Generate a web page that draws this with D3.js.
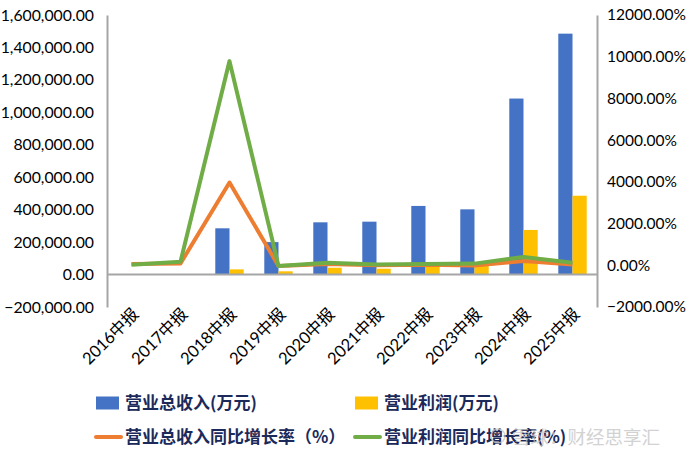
<!DOCTYPE html>
<html><head><meta charset="utf-8">
<script src="https://cdn.jsdelivr.net/npm/d3@7/dist/d3.min.js"></script>
<style>html,body{margin:0;padding:0;background:#fff}</style>
</head><body>
<svg id="c" width="687" height="453"></svg>
<script>
const categories = ["2016中报","2017中报","2018中报","2019中报","2020中报","2021中报","2022中报","2023中报","2024中报","2025中报"];
const revenue = [0, 0, 285000, 200000, 322000, 326000, 423000, 402000, 1085000, 1485000];
const profit = [0, 0, 32000, 20000, 42000, 36000, 53000, 55000, 275000, 486000];
const revenueGrowth = [60, 90, 3970, -30, 61, 1, 30, -5, 200, 40];
const profitGrowth = [20, 170, 9790, -30, 120, 40, 60, 80, 400, 120];
const leftTicks = [-200000,0,200000,400000,600000,800000,1000000,1200000,1400000,1600000];
const rightTicks = [-2000,0,2000,4000,6000,8000,10000,12000];
const legendNames = ["营业总收入(万元)","营业利润(万元)","营业总收入同比增长率（%）","营业利润同比增长率(%)"];

const svg = d3.select("#c");
const L = 107, R = 597, T = 15, B = 307;
const x = d3.scaleBand().domain(categories).range([L, R]).padding(0);
const yL = d3.scaleLinear().domain([-200000, 1600000]).range([B, T]);
const yR = d3.scaleLinear().domain([-2000, 12000]).range([B, T]);
const bw = x.bandwidth() * 0.29;
const cx = d => x(d) + x.bandwidth() / 2;
const font = "Lato, 'Noto Sans', sans-serif";

// bars
svg.append("g").selectAll("rect").data(categories).join("rect")
  .attr("x", d => cx(d) - bw).attr("width", bw)
  .attr("y", (d,i) => yL(Math.max(0, revenue[i])))
  .attr("height", (d,i) => Math.abs(yL(revenue[i]) - yL(0)))
  .attr("fill", "#4472C4");
svg.append("g").selectAll("rect").data(categories).join("rect")
  .attr("x", d => cx(d)).attr("width", bw)
  .attr("y", (d,i) => yL(Math.max(0, profit[i])))
  .attr("height", (d,i) => Math.abs(yL(profit[i]) - yL(0)))
  .attr("fill", "#FFC000");

// zero line (category axis)
svg.append("line").attr("x1", L).attr("x2", R).attr("y1", yL(0)).attr("y2", yL(0))
  .attr("stroke", "#A6A6A6").attr("stroke-width", 2);

// lines
const line = d3.line().x((d,i) => cx(categories[i])).y(d => yR(d));
svg.append("path").datum(revenueGrowth).attr("d", line).attr("fill","none")
  .attr("stroke","#ED7D31").attr("stroke-width",4).attr("stroke-linejoin","round");
svg.append("path").datum(profitGrowth).attr("d", line).attr("fill","none")
  .attr("stroke","#70AD47").attr("stroke-width",4).attr("stroke-linejoin","round");

// axes
const fmtL = d3.format(",.2f");
const gl = svg.append("g").attr("transform", `translate(${L},0)`)
  .call(d3.axisLeft(yL).tickValues(leftTicks).tickFormat(fmtL).tickSize(0).tickPadding(13));
gl.select(".domain").attr("stroke","#A6A6A6").attr("stroke-width",2);
gl.selectAll("text").attr("font-family", font).attr("font-size", "15.8px").attr("fill","#000");

const gr = svg.append("g").attr("transform", `translate(${R},0)`)
  .call(d3.axisRight(yR).tickValues(rightTicks).tickFormat(d => d3.format(".2f")(d) + "%").tickSize(0).tickPadding(10));
gr.select(".domain").attr("stroke","#A6A6A6").attr("stroke-width",2);
gr.selectAll("text").attr("font-family", font).attr("font-size", "15.5px").attr("fill","#000");

// category labels
svg.append("g").selectAll("text").data(categories).join("text")
  .attr("transform", d => `translate(${cx(d) + 4},${B + 4}) rotate(-45)`)
  .attr("text-anchor","end").attr("dy","0.35em")
  .attr("font-family", "Lato, 'Noto Sans CJK SC', sans-serif").attr("font-size","16.5px").attr("fill","#000")
  .text(d => d);

// legend
const lg = svg.append("g").attr("font-family","'Noto Sans CJK SC', sans-serif").attr("font-weight","bold")
  .attr("font-size","17px").attr("fill","#1B2A5A");
const legendPos = [[96,403],[355,403],[96,437],[355,437]];
const legendColors = ["#4472C4","#FFC000","#ED7D31","#70AD47"];
legendNames.forEach((n,i) => {
  const [lx, ly] = legendPos[i];
  if (i < 2) {
    lg.append("rect").attr("x", lx).attr("y", ly - 6.5).attr("width", 23).attr("height", 13).attr("fill", legendColors[i]);
  } else {
    lg.append("line").attr("x1", lx).attr("x2", lx + 25).attr("y1", ly).attr("y2", ly)
      .attr("stroke", legendColors[i]).attr("stroke-width", 4).attr("stroke-linecap","round");
  }
  lg.append("text").attr("x", lx + 29).attr("y", ly).attr("dy","0.36em").text(n);
});

// watermark
const wm = svg.append("g").attr("opacity", 0.75);
wm.append("circle").attr("cx", 498).attr("cy", 436).attr("r", 7).attr("fill","none").attr("stroke","#c9c9c9").attr("stroke-width",1.5);
wm.append("text").attr("x", 512).attr("y", 437).attr("dy","0.36em")
  .attr("font-family","'Noto Sans CJK SC', sans-serif").attr("font-size","18.5px").attr("fill","#c4c4c4")
  .text("雪球：财经思享汇");
</script>
</body></html>
